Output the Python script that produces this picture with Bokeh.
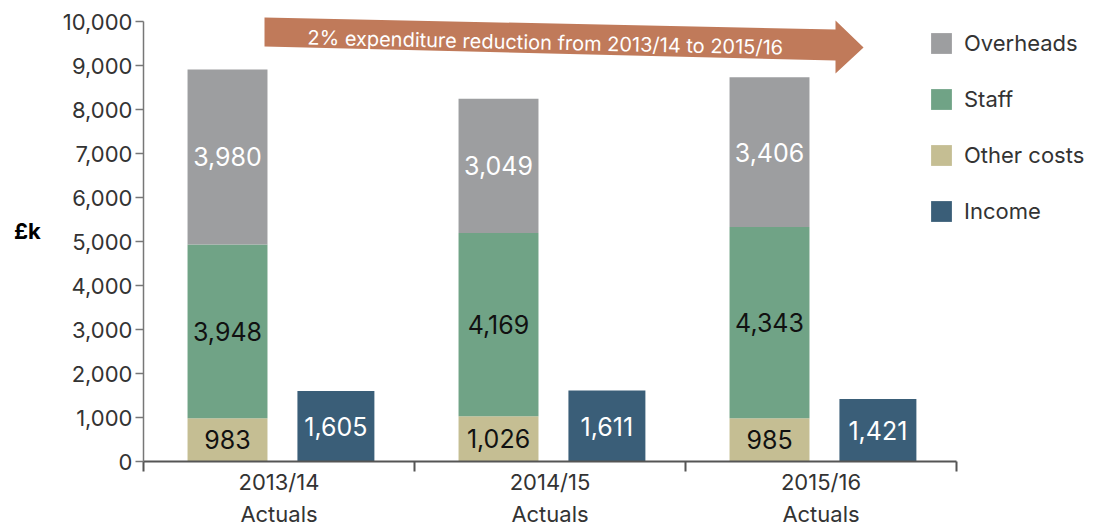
from bokeh.plotting import figure
from bokeh.models import (Range1d, FixedTicker, LinearAxis, NumeralTickFormatter,
                          ColumnDataSource, Legend, LegendItem, Label, PolyAnnotation)
from bokeh.core.properties import value
from bokeh.embed import file_html
from bokeh.resources import INLINE
import numpy as np

# ---- data ----
years = ["2013/14", "2014/15", "2015/16"]
year_sub = ["Actuals", "Actuals", "Actuals"]
other_costs = [983, 1026, 985]
staff = [3948, 4169, 4343]
overheads = [3980, 3049, 3406]
income = [1605, 1611, 1421]
y_ticks = list(range(0, 10001, 1000))
series_names = ["Overheads", "Staff", "Other costs", "Income"]
annotation_text = "2% expenditure reduction from 2013/14 to 2015/16"
unit_label = "£k"

# ---- style ----
FONT = "Inter"
C_OVER = "#9D9EA0"
C_STAFF = "#70A386"
C_OTHER = "#C5BE93"
C_INCOME = "#3A5E78"
C_ARROW = "#C07A5A"
TXT = "#333333"

n = len(years)
idx = np.arange(n)
stack_off, stack_w = 0.31, 0.295
inc_off, inc_w = 0.71, 0.284

# frame geometry: axis area 813 x 440 px, frame extended right/up for legend & arrow
AXIS_W, AXIS_H = 813, 440
FRAME_W, FRAME_H = 955, 461
y_max = 10000
x_end = n * FRAME_W / AXIS_W
y_end = y_max * FRAME_H / AXIS_H

src = ColumnDataSource(dict(
    x_stack=idx + stack_off,
    x_inc=idx + inc_off,
    other=other_costs, staff=staff, overheads=overheads, income=income,
))

p = figure(frame_width=FRAME_W, frame_height=FRAME_H,
           min_border_left=143, min_border_right=0,
           min_border_top=0, min_border_bottom=61,
           x_range=Range1d(0, x_end), y_range=Range1d(0, y_end),
           output_backend="svg", toolbar_location=None,
           x_axis_type=None, y_axis_type=None)
p.outline_line_color = None
p.xgrid.grid_line_color = None
p.ygrid.grid_line_color = None
p.background_fill_color = "white"
p.border_fill_color = "white"

# stacked bars
rs = p.vbar_stack(["other", "staff", "overheads"], x="x_stack", width=stack_w,
                  color=[C_OTHER, C_STAFF, C_OVER], line_color=None, source=src)
r_inc = p.vbar(x="x_inc", top="income", width=inc_w, color=C_INCOME,
               line_color=None, source=src)

# labels
oc = np.array(other_costs, float)
st = np.array(staff, float)
ov = np.array(overheads, float)
lab = ColumnDataSource(dict(
    x=list(idx + stack_off) * 3 + list(idx + inc_off),
    y=list(oc / 2) + list(oc + st / 2) + list(oc + st + ov / 2) + list(np.array(income) / 2),
    t=[f"{v:,}" for v in other_costs + staff + overheads + income],
    c=["#111111"] * (2 * n) + ["white"] * (2 * n),
))
p.text(x="x", y="y", text="t", text_color="c", source=lab,
       text_align="center", text_baseline="middle",
       text_font=value(FONT), text_font_size="25px")

# y axis
yax = LinearAxis(ticker=FixedTicker(ticks=y_ticks),
                 formatter=NumeralTickFormatter(format="0,0"),
                 bounds=(0, y_max))
yax.axis_line_color = "#777777"
yax.axis_line_width = 1.5
yax.major_tick_line_color = "#777777"
yax.major_tick_line_width = 1.5
yax.major_tick_out = 8
yax.major_tick_in = 0
yax.minor_tick_line_color = None
yax.major_label_standoff = 3
yax.major_label_text_font = FONT
yax.major_label_text_font_size = "22px"
yax.major_label_text_color = TXT
yax.axis_label = unit_label
yax.axis_label_orientation = "horizontal"
yax.axis_label_standoff = 19
yax.axis_label_text_font = FONT
yax.axis_label_text_font_size = "22px"
yax.axis_label_text_font_style = "bold"
yax.axis_label_text_color = "#000000"
p.add_layout(yax, "left")

# x axis: boundary ticks as minor ticks, labels at centres
centres = [i + 0.5 for i in range(n)]
xt = FixedTicker(ticks=centres, minor_ticks=list(range(n + 1)))
xax = LinearAxis(ticker=xt, bounds=(0, n))
xax.major_label_overrides = {c: y for c, y in zip(centres, years)}
xax.axis_line_color = "#555555"
xax.axis_line_width = 2
xax.major_tick_line_color = None
xax.major_tick_out = 0
xax.major_tick_in = 0
xax.minor_tick_line_color = "#555555"
xax.minor_tick_line_width = 2
xax.minor_tick_out = 10
xax.minor_tick_in = 0
xax.major_label_standoff = -3
xax.major_label_text_font = FONT
xax.major_label_text_font_size = "22px"
xax.major_label_text_color = TXT
p.add_layout(xax, "below")

xax2 = LinearAxis(ticker=FixedTicker(ticks=centres, minor_ticks=[]), bounds=(0, n))
xax2.major_label_overrides = {c: s for c, s in zip(centres, year_sub)}
xax2.axis_line_color = None
xax2.major_tick_line_color = None
xax2.major_tick_out = 0
xax2.major_tick_in = 0
xax2.minor_tick_line_color = None
xax2.major_label_standoff = 3
xax2.major_label_text_font = FONT
xax2.major_label_text_font_size = "22px"
xax2.major_label_text_color = TXT
p.add_layout(xax2, "below")

# annotation arrow
ax = [0.4465, 2.5535, 2.5535, 2.657, 2.5535, 2.5535, 0.4465]
ay = [10091, 9818, 10023, 9409, 8818, 9114, 9432]
p.add_layout(PolyAnnotation(xs=ax, ys=ay, fill_color=C_ARROW, fill_alpha=1,
                            line_color=None))
p.add_layout(Label(x=1.483, y=9520, text=annotation_text, angle=-0.021,
                   text_align="center", text_baseline="middle", text_font=FONT,
                   text_font_size="20px", text_color="white"))

# legend
legend = Legend(items=[
    LegendItem(label=series_names[0], renderers=[rs[2]]),
    LegendItem(label=series_names[1], renderers=[rs[1]]),
    LegendItem(label=series_names[2], renderers=[rs[0]]),
    LegendItem(label=series_names[3], renderers=[r_inc]),
], location=(785, 237))
legend.glyph_width = 26
legend.glyph_height = 26
legend.label_height = 26
legend.spacing = 30
legend.padding = 0
legend.margin = 0
legend.label_standoff = 10
legend.border_line_color = None
legend.background_fill_alpha = 0
legend.label_text_font = FONT
legend.label_text_font_size = "22px"
legend.label_text_color = TXT
p.add_layout(legend, "center")

open("out.html", "w").write(file_html(p, INLINE))
